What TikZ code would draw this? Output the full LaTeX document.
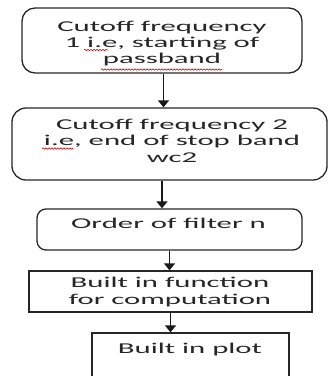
\documentclass[tikz,border=0pt]{standalone}
\usepackage{fontspec}
\usetikzlibrary{arrows.meta,decorations.pathmorphing}
\newfontfamily\boxfont[FakeStretch=2.05]{Carlito}

\tikzset{
  box/.style={draw=black!85, line width=1.3pt, inner sep=0pt},
  roundbox/.style={box, rounded corners=13pt},
  label/.style={font=\boxfont\fontsize{15}{16.2}\selectfont, text=black!85,
                align=center, inner sep=0pt, anchor=base},
  flow/.style={draw=black!90, line width=1.6pt,
               -{Triangle[width=11pt,length=7pt]}},
  spell/.style={draw=red!80!black, line width=0.6pt,
                decorate, decoration={snake, amplitude=0.7pt, segment length=3pt}}
}

\begin{document}
\begin{tikzpicture}[x=1pt,y=-1pt]
\useasboundingbox (0,0) rectangle (328,376);

% process boxes
\node[roundbox, minimum width=280pt, minimum height=65pt] (b1) at (162,40.5) {};
\node[roundbox, rounded corners=14pt, minimum width=315pt, minimum height=72pt] (b2) at (169.5,144) {};
\node[roundbox, rounded corners=9pt, minimum width=265pt, minimum height=41pt] (b3) at (169.5,229.5) {};
\node[box, minimum width=283pt, minimum height=41pt] (b4) at (170.5,291.5) {};
\node[box, minimum width=197pt, minimum height=57pt] (b5) at (190.5,361.5) {};

% box texts (anchored on the baseline of the last line)
\node[label] (t1) at (162,63.5) {Cutoff frequency\\1 i.e, starting of\\passband};
\node[label] (t2) at (172,162) {Cutoff frequency 2\\i.e, end of stop band\\wc2};
\node[label] (t3) at (168.5,228) {Order of filter n};
\node[label] (t4) at (170,304) {Built in function\\for computation};
\node[label] (t5) at (190,353) {Built in plot};

% spell-check marks
\coordinate (s1a) at (84,50);  \coordinate (s1b) at (108,50);
\coordinate (s2a) at (101,69.5); \coordinate (s2b) at (222,69.5);
\coordinate (s3a) at (42,148.5); \coordinate (s3b) at (73,148.5);
\draw[spell] (s1a) -- (s1b);
\draw[spell] (s2a) -- (s2b);
\draw[spell] (s3a) -- (s3b);

% connectors
\draw[flow] ([xshift=1.5pt]b1.south) -- ([xshift=1.5pt]b1.south |- b2.north);
\draw[flow] ([xshift=-7.5pt]b2.south) -- ([xshift=-7.5pt]b2.south |- b3.north);
\draw[flow] (b3.south) -- (b3.south |- b4.north);
\draw[flow] (b4.south) -- (b4.south |- b5.north);
\end{tikzpicture}
\end{document}
